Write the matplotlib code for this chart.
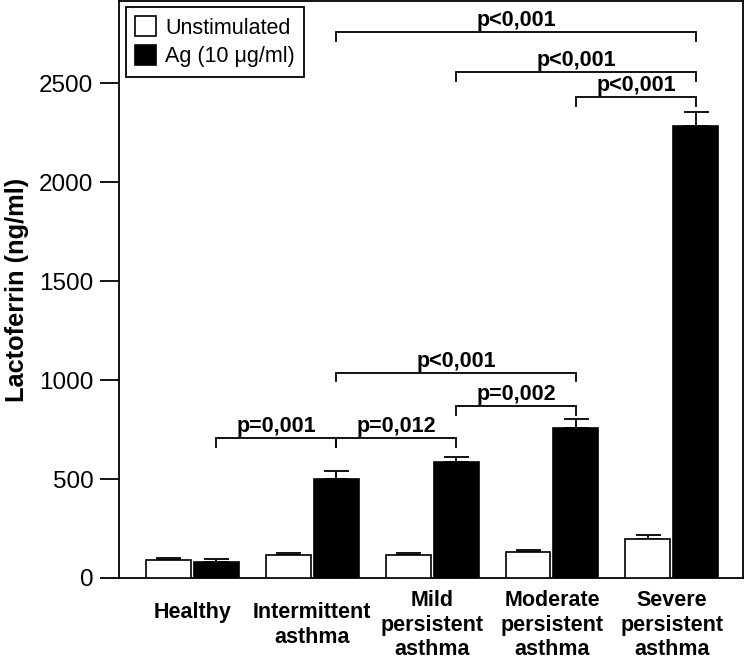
import matplotlib
matplotlib.use("Agg")
import matplotlib.pyplot as plt
import numpy as np

plt.rcParams['font.family'] = ['Liberation Sans', 'DejaVu Sans']

categories = ["Healthy\n ", "Intermittent\nasthma", "Mild\npersistent\nasthma",
              "Moderate\npersistent\nasthma", "Severe\npersistent\nasthma"]
unstim = [92, 116, 116, 131, 195]
unstim_err = [9, 10, 10, 12, 24]
ag = [79, 500, 586, 758, 2284]
ag_err = [15, 43, 25, 43, 71]
series_labels = ["Unstimulated", "Ag (10 μg/ml)"]
yticks = [0, 500, 1000, 1500, 2000, 2500]
# (left group, right group, bracket height, label)
comparisons = [
    (0, 1, 707, "p=0,001"),
    (1, 2, 707, "p=0,012"),
    (1, 3, 1038, "p<0,001"),
    (2, 3, 870, "p=0,002"),
    (3, 4, 2432, "p<0,001"),
    (2, 4, 2557, "p<0,001"),
    (1, 4, 2759, "p<0,001"),
]

fig = plt.figure(figsize=(7.45, 6.58), dpi=100)
ax = fig.add_axes([119/745, 1-578/658, (743-119)/745, (578-1)/658])

x = np.arange(len(categories))
w = 0.375
off = 0.2
lw = 1.2
ax.bar(x - off, unstim, w, color='white', edgecolor='black', linewidth=lw,
       label=series_labels[0], zorder=3)
ax.bar(x + off, ag, w, color='black', edgecolor='black', linewidth=lw,
       label=series_labels[1], zorder=3)
ax.errorbar(x - off, unstim, yerr=[np.zeros(len(x)), unstim_err], fmt='none',
            ecolor='black', elinewidth=1.3, capsize=9, capthick=1.3, zorder=2)
ax.errorbar(x + off, ag, yerr=[np.zeros(len(x)), ag_err], fmt='none',
            ecolor='black', elinewidth=1.3, capsize=9, capthick=1.3, zorder=2)

tick_drop = 45
for a, b, h, lab in comparisons:
    xa, xb = a + off, b + off
    ax.plot([xa, xa, xb, xb], [h - tick_drop, h, h, h - tick_drop],
            color='black', lw=1.3, solid_joinstyle='miter', clip_on=False)
    ax.annotate(lab, xy=((xa + xb) / 2, h), xytext=(0, 4.3),
                textcoords='offset points', ha='center', va='baseline',
                fontsize=15.5, fontweight='bold')

ax.set_xlim(-0.611, 4.593)
ax.set_ylim(0, 2915)
ax.set_yticks(yticks)
ax.set_yticklabels([str(t) for t in yticks], fontsize=17.5)
ax.tick_params(axis='y', direction='out', length=13.5, width=1.3, pad=5)
ax.tick_params(axis='x', length=0, pad=0)
ax.set_xticks(x)
ax.set_xticklabels(categories, fontsize=15.5, fontweight='bold',
                   linespacing=1.19, va='center')
for lbl in ax.get_xticklabels():
    lbl.set_y(-47 / 577)
for s in ax.spines.values():
    s.set_linewidth(1.3)

ax.set_ylabel("Lactoferrin (ng/ml)", fontsize=18.3, fontweight='bold')
ax.yaxis.set_label_coords(-0.144, 0.5)

leg = ax.legend(loc='upper left',
                bbox_to_anchor=((125.7 - 119) / 624, 1 - (7.3 - 1) / 577),
                borderaxespad=0, fontsize=15.5, frameon=True, fancybox=False,
                edgecolor='black', framealpha=1, handlelength=1.0,
                handleheight=1.05, handletextpad=0.4, labelspacing=0.3,
                borderpad=0.42)
leg.get_frame().set_linewidth(1.3)

fig.savefig("out.png", dpi=100)
